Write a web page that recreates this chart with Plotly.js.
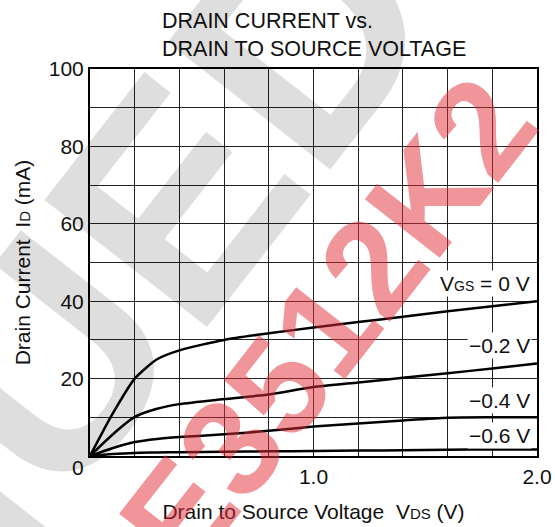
<!DOCTYPE html>
<html>
<head>
<meta charset="utf-8">
<script src="https://cdn.plot.ly/plotly-3.0.1.min.js"></script>
<style>html,body{margin:0;padding:0;background:#fff;}</style>
</head>
<body>
<div id="chart" style="width:555px;height:527px;"></div>
<script>
// Drain-source voltage (V)
var vds = [0, 0.1, 0.2, 0.3, 0.4, 0.6, 0.8, 1.0, 1.2, 1.4, 1.6, 1.8, 2.0];
// Drain current (mA) for each gate-source voltage
var idVgs0   = [0, 10.8, 20.0, 25.0, 27.3, 30.0, 31.7, 33.2, 34.6, 36.0, 37.4, 38.7, 40.0];
var idVgsM02 = [0, 5.5, 10.1, 12.2, 13.4, 14.7, 15.9, 17.8, 19.0, 20.2, 21.4, 22.6, 23.9];
var idVgsM04 = [0, 2.0, 3.6, 4.4, 4.9, 5.6, 6.5, 7.6, 8.4, 9.2, 9.9, 10.0, 10.0];
var idVgsM06 = [0, 0.5, 0.8, 0.9, 1.0, 1.1, 1.2, 1.3, 1.4, 1.5, 1.6, 1.7, 1.7];
var seriesLabels = ['V<span style="font-size:14px">GS</span> = 0 V', '\u22120.2 V', '\u22120.4 V', '\u22120.6 V'];
var labelY = [44.6, 28.6, 14.4, 5.3];

// Tick labels
var xTickVals = [0, 0.2, 0.4, 0.6, 0.8, 1.0, 1.2, 1.4, 1.6, 1.8, 2.0];
var xTickText = ['', '', '', '', '', '1.0', '', '', '', '', '2.0'];
var yTickVals = [0, 10, 20, 30, 40, 50, 60, 70, 80, 90, 100];
var yTickText = ['', '', '20', '', '40', '', '60', '', '80', '', '100'];
var originLabel = '0';

var FONT = 'Liberation Sans, Arial, Helvetica, sans-serif';

var allSeries = [idVgs0, idVgsM02, idVgsM04, idVgsM06];
var traces = allSeries.map(function (ys) {
  return {
    x: vds, y: ys, type: 'scatter', mode: 'lines',
    line: {color: '#000', width: 2.5, shape: 'spline', smoothing: 0.6},
    hoverinfo: 'skip', showlegend: false, cliponaxis: true
  };
});

var annotations = [];
// watermarks
annotations.push({
  text: '<b>DISCONTINUED</b>', xref: 'paper', yref: 'paper', x: -0.947, y: -1.019,
  xanchor: 'center', yanchor: 'middle', showarrow: false, textangle: -52,
  font: {family: FONT, size: 300, color: 'rgba(0,0,0,0.13)'}
});
seriesLabels.forEach(function (t, i) {
  annotations.push({
    text: t, xref: 'x', yref: 'y', x: 1.978, y: labelY[i],
    xanchor: 'right', yanchor: 'middle', showarrow: false,
    bgcolor: '#fff', borderpad: 1,
    font: {family: FONT, size: 21, color: '#111'}
  });
});
annotations.push({
  text: originLabel, xref: 'paper', yref: 'paper', x: -0.026, y: -0.03,
  xanchor: 'center', yanchor: 'middle', showarrow: false,
  font: {family: FONT, size: 21, color: '#111'}
});
annotations.push({
  text: '<b>E3512K2</b>', xref: 'paper', yref: 'paper', x: 0.532, y: 0.343,
  xanchor: 'center', yanchor: 'middle', showarrow: false, textangle: -52,
  font: {family: FONT, size: 138, color: 'rgba(225,45,55,0.5)'}
});

var layout = {
  width: 555, height: 527,
  margin: {l: 90, r: 18, t: 69, b: 71, pad: 0},
  paper_bgcolor: '#fff', plot_bgcolor: '#fff',
  font: {family: FONT, size: 21, color: '#111'},
  title: {
    text: 'DRAIN CURRENT vs.<br>DRAIN TO SOURCE VOLTAGE',
    x: 162 / 555, xanchor: 'left', xref: 'container',
    y: 1 - 28 / 527, yanchor: 'top', yref: 'container',
    font: {family: FONT, size: 21.5, color: '#111'}
  },
  xaxis: {
    range: [0, 2.0], tickmode: 'array', tickvals: xTickVals, ticktext: xTickText,
    showgrid: true, gridcolor: '#222', gridwidth: 1, zeroline: false,
    showline: true, mirror: true, linecolor: '#000', linewidth: 2,
    ticks: '', ticklabelstandoff: 1, fixedrange: true,
    title: {text: 'Drain to Source Voltage\u00a0\u00a0V<span style="font-size:15px">DS</span> (V)', standoff: 17, font: {family: FONT, size: 21, color: '#111'}}
  },
  yaxis: {
    range: [0, 100], tickmode: 'array', tickvals: yTickVals, ticktext: yTickText,
    showgrid: true, gridcolor: '#222', gridwidth: 1, zeroline: false,
    showline: true, mirror: true, linecolor: '#000', linewidth: 2,
    ticks: '', ticklabelstandoff: 0, fixedrange: true,
    title: {text: 'Drain Current\u00a0\u00a0I<span style="font-size:15px">D</span> (mA)', standoff: 12, font: {family: FONT, size: 21, color: '#111'}}
  },
  annotations: annotations
};

Plotly.newPlot('chart', traces, layout, {displayModeBar: false, staticPlot: true});
</script>
</body>
</html>
